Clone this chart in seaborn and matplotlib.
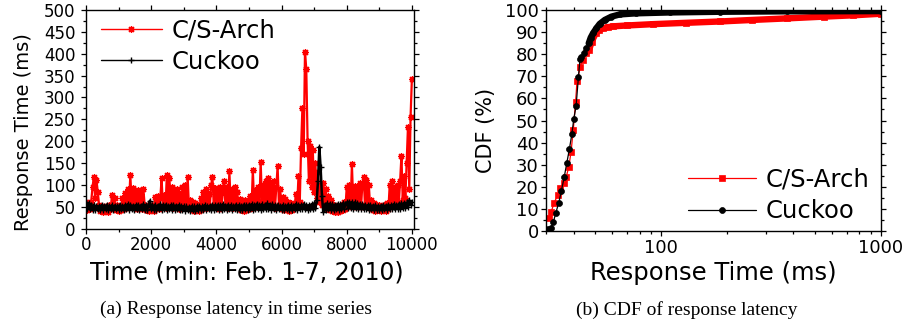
import numpy as np
import pandas as pd
import matplotlib
matplotlib.use("Agg")
import matplotlib.pyplot as plt
import seaborn as sns
from matplotlib.ticker import MultipleLocator, FixedLocator, FixedFormatter, NullFormatter, LogLocator

# ---------------- data: (a) response time series ----------------
time_min = list(range(0, 10001, 40))

cs_arch_ms = [
    60, 42, 58, 44, 62, 95, 118, 70, 112, 85, 55, 40, 52, 38, 50, 40, 52, 39, 55, 48, 78, 45, 70, 42, 55,
    40, 52, 43, 70, 45, 82, 48, 90, 55, 123, 60, 92, 50, 85, 45, 88, 52, 80, 46, 90, 55, 42, 52, 40, 50,
    42, 55, 41, 72, 48, 75, 45, 70, 115, 50, 78, 48, 122, 60, 117, 55, 95, 48, 88, 52, 90, 45, 80, 55, 95,
    50, 100, 52, 118, 48, 65, 42, 60, 40, 58, 42, 55, 40, 70, 45, 85, 50, 90, 48, 80, 52, 100, 118, 55, 92,
    50, 88, 45, 95, 52, 85, 110, 50, 95, 48, 132, 55, 90, 48, 95, 50, 85, 45, 68, 42, 62, 40, 65, 42, 60,
    45, 75, 48, 135, 55, 88, 50, 95, 55, 153, 60, 100, 52, 110, 55, 115, 50, 105, 55, 110, 48, 95, 143, 55, 90,
    45, 72, 42, 68, 45, 62, 40, 58, 42, 55, 48, 80, 52, 120, 60, 185, 275, 170, 405, 365, 200, 110, 190, 95, 180,
    85, 150, 70, 130, 60, 100, 55, 105, 50, 90, 45, 75, 42, 65, 40, 55, 38, 50, 38, 48, 40, 52, 42, 60, 45,
    95, 50, 100, 55, 147, 60, 98, 50, 90, 55, 105, 50, 100, 119, 55, 112, 50, 100, 48, 65, 42, 58, 40, 55, 42,
    55, 40, 52, 42, 55, 40, 58, 45, 100, 55, 108, 60, 95, 55, 100, 60, 110, 167, 65, 120, 70, 150, 233, 90, 256,
    342,
]

cuckoo_ms = [
    62, 45, 58, 44, 55, 43, 54, 42, 53, 44, 52, 42, 54, 43, 53, 44, 55, 43, 52, 44, 54, 42, 53, 44, 52,
    43, 55, 44, 53, 42, 54, 45, 56, 43, 55, 44, 53, 42, 54, 45, 55, 43, 53, 44, 56, 42, 54, 43, 55, 64,
    44, 54, 43, 55, 42, 53, 44, 56, 43, 54, 45, 55, 43, 53, 44, 54, 42, 55, 43, 53, 44, 54, 42, 53, 43,
    52, 41, 51, 42, 50, 41, 52, 42, 51, 40, 52, 42, 53, 43, 51, 42, 54, 43, 52, 44, 53, 42, 55, 43, 54,
    44, 55, 43, 54, 42, 56, 44, 53, 43, 55, 44, 54, 42, 53, 44, 55, 43, 54, 42, 53, 43, 55, 44, 54, 43,
    55, 44, 56, 43, 54, 45, 57, 44, 55, 43, 56, 45, 54, 44, 58, 45, 55, 43, 56, 44, 54, 43, 55, 44, 53,
    43, 54, 42, 53, 44, 55, 43, 54, 42, 53, 44, 56, 43, 55, 44, 54, 45, 56, 44, 55, 43, 54, 45, 56, 44,
    58, 48, 65, 110, 187, 140, 75, 38, 55, 42, 58, 44, 57, 43, 56, 42, 55, 44, 57, 43, 56, 44, 58, 45, 57,
    60, 47, 62, 48, 61, 46, 60, 47, 58, 45, 57, 46, 56, 44, 55, 45, 54, 43, 55, 44, 53, 42, 54, 43, 52,
    43, 53, 42, 54, 44, 53, 43, 55, 44, 54, 45, 56, 44, 55, 46, 57, 45, 58, 47, 59, 48, 60, 50, 65, 55,
    62,
]

# ---------------- data: (b) CDF of response latency ----------------
cs_cdf_ms = [30.8, 31.6, 32.5, 33.8, 34.7, 36.1, 37.0, 38.0, 38.9, 39.8, 40.8, 41.4, 42.9, 43.9,
             45.4, 47.0, 48.3, 50.4, 52.0, 54.3, 57.0, 60.3, 70.0, 91.8, 130, 185, 260, 373, 550, 750, 1000]
cs_cdf_pct = [5.7, 8.7, 12.5, 16.3, 19.3, 21.6, 24.6, 29.1, 35.9, 45.7, 58.5, 68.0, 74.3, 77.4,
              80.4, 81.9, 85.7, 89.5, 90.8, 91.7, 92.2, 92.6, 93.0, 93.6, 94.2, 94.8, 95.5, 96.2, 97.0, 97.6, 98.3]

ck_cdf_ms = [30.7, 31.5, 32.3, 33.1, 34.2, 35.1, 36.2, 37.2, 38.2, 39.2, 40.0, 41.0, 42.0, 42.7,
             43.3, 44.6, 45.6, 46.8, 47.8, 49.0, 50.7, 52.5, 55.4, 59.4, 64.8, 77.0, 109.6, 185, 373, 1000]
ck_cdf_pct = [0.8, 1.5, 4.0, 8.0, 12.8, 18.0, 24.4, 30.8, 37.0, 43.7, 50.5, 56.6, 69.5, 77.7,
              78.9, 80.4, 82.7, 84.9, 87.5, 89.5, 91.7, 93.7, 95.5, 97.0, 98.0, 98.5, 98.9, 99.2, 99.4, 99.5]

series_names = ["C/S-Arch", "Cuckoo"]
x_ticks_a = [0, 2000, 4000, 6000, 8000, 10000]

# ---------------- style ----------------
sns.set_style("ticks")
plt.rcParams["font.family"] = ["DejaVu Sans"]
plt.rcParams["axes.linewidth"] = 1.0
for key in ["text.color", "axes.labelcolor", "xtick.color", "ytick.color", "axes.edgecolor"]:
    plt.rcParams[key] = "black"

RED = "#ff0000"
BLACK = "#000000"

fig = plt.figure(figsize=(9.06, 3.27), dpi=100)
W, H = 906.0, 327.0
ax1 = fig.add_axes([86 / W, (H - 228.7) / H, 327.5 / W, 218.7 / H])
ax2 = fig.add_axes([546.3 / W, (H - 231) / H, 334.4 / W, 221 / H])

# ---------------- (a) ----------------
df_a = pd.DataFrame({"t": time_min, "cs": cs_arch_ms, "ck": cuckoo_ms})
sns.lineplot(data=df_a, x="t", y="cs", ax=ax1, color=RED, lw=1.6, marker=(8, 2, 0),
             markersize=5, markeredgewidth=0.9, markeredgecolor=RED,
             label=series_names[0], estimator=None, sort=False)
sns.lineplot(data=df_a, x="t", y="ck", ax=ax1, color=BLACK, lw=1.8, marker="+",
             markersize=5, markeredgewidth=1.0, markeredgecolor=BLACK,
             label=series_names[1], estimator=None, sort=False)

ax1.set_xlim(0, 10050)
ax1.set_ylim(0, 500)
ax1.xaxis.set_major_locator(FixedLocator(x_ticks_a))
ax1.xaxis.set_minor_locator(MultipleLocator(1000))
ax1.yaxis.set_major_locator(MultipleLocator(50))
ax1.yaxis.set_minor_locator(MultipleLocator(25))
ax1.tick_params(which="both", direction="out", top=True, right=True, width=0.9, colors="black")
ax1.tick_params(which="major", length=3.5, labelsize=12)
ax1.tick_params(which="minor", length=2)
ax1.tick_params(axis="y", which="major", pad=4)
ax1.tick_params(axis="x", which="major", pad=1.5)
ax1.set_xlabel("Time (min: Feb. 1-7, 2010)", fontsize=17)
ax1.set_ylabel("Response Time (ms)", fontsize=14)
ax1.xaxis.set_label_coords(0.49, -0.198)
ax1.xaxis.label.set_va("center")
ax1.yaxis.set_label_coords(-0.192, 0.442)
ax1.yaxis.label.set_va("center")
for s in ax1.spines.values():
    s.set_visible(True)
    s.set_color("black")

h, l = ax1.get_legend_handles_labels()
leg1 = ax1.legend(h[:2], l[:2], loc="upper left", bbox_to_anchor=(0.046, 0.962), frameon=False,
                  fontsize=17.5, handlelength=2.5, handletextpad=0.4, labelspacing=0.3,
                  borderpad=0, borderaxespad=0)
for ln in leg1.get_lines():
    ln.set_linewidth(1.0)

# ---------------- (b) ----------------
ax2.set_xscale("log")
df_cs = pd.DataFrame({"x": cs_cdf_ms, "y": cs_cdf_pct})
df_ck = pd.DataFrame({"x": ck_cdf_ms, "y": ck_cdf_pct})

sns.lineplot(data=df_cs, x="x", y="y", ax=ax2, color=RED, lw=0.9, marker="s", markersize=4.3,
             markeredgecolor=RED, markeredgewidth=0.5, label=series_names[0], estimator=None, sort=False)
sns.lineplot(data=df_cs[df_cs["x"] >= 46], x="x", y="y", ax=ax2, color=RED, lw=4.6,
             legend=False, estimator=None, sort=False)
sns.lineplot(data=df_ck, x="x", y="y", ax=ax2, color=BLACK, lw=0.9, marker="o", markersize=4.3,
             markeredgecolor=BLACK, markeredgewidth=0.5, label=series_names[1], estimator=None, sort=False)
sns.lineplot(data=df_ck[df_ck["x"] >= 46], x="x", y="y", ax=ax2, color=BLACK, lw=4.6,
             legend=False, estimator=None, sort=False)

ax2.set_xlim(30, 1000)
ax2.set_ylim(0, 100)
ax2.xaxis.set_major_locator(FixedLocator([100, 1000]))
ax2.xaxis.set_major_formatter(FixedFormatter(["100", "1000"]))
ax2.xaxis.set_minor_locator(LogLocator(base=10, subs=(2, 3, 4, 5, 6, 7, 8, 9)))
ax2.xaxis.set_minor_formatter(NullFormatter())
ax2.yaxis.set_major_locator(MultipleLocator(10))
ax2.yaxis.set_minor_locator(MultipleLocator(5))
ax2.tick_params(which="both", direction="out", top=True, right=True, width=0.9, colors="black")
ax2.tick_params(which="major", length=3.5, labelsize=13)
ax2.tick_params(which="minor", length=2)
ax2.tick_params(axis="y", which="major", pad=2)
ax2.tick_params(axis="x", which="major", pad=2)
ax2.set_xlabel("Response Time (ms)", fontsize=17.5)
ax2.set_ylabel("CDF (%)", fontsize=15)
ax2.xaxis.set_label_coords(0.4985, -0.19)
ax2.xaxis.label.set_va("center")
ax2.yaxis.set_label_coords(-0.18, 0.457)
ax2.yaxis.label.set_va("center")
for s in ax2.spines.values():
    s.set_visible(True)
    s.set_color("black")

h2, l2 = ax2.get_legend_handles_labels()
keep = [i for i, lab in enumerate(l2) if lab in series_names]
ax2.legend([h2[i] for i in keep], [l2[i] for i in keep], loc="lower right",
           bbox_to_anchor=(0.965, 0.035), frameon=False, fontsize=17.5, handlelength=2.8,
           handletextpad=0.37, labelspacing=0.3, borderpad=0, borderaxespad=0)

# ---------------- captions ----------------
fig.text(236.5 / W, 1 - 309 / H, "(a) Response latency in time series", ha="center", va="center",
         family=["Liberation Serif", "DejaVu Serif"], fontsize=14)
fig.text(687 / W, 1 - 310 / H, "(b) CDF of response latency", ha="center", va="center",
         family=["Liberation Serif", "DejaVu Serif"], fontsize=14)

fig.savefig("out.png", dpi=100)
